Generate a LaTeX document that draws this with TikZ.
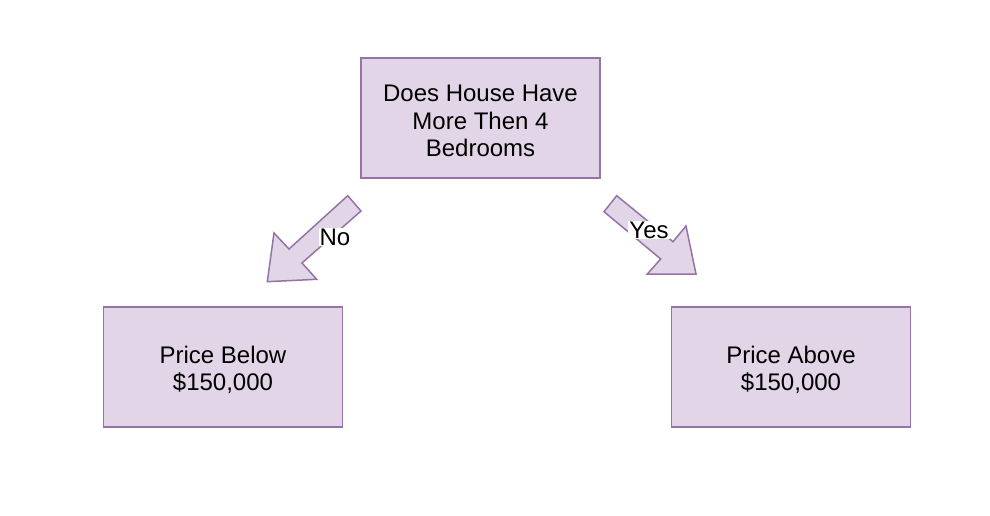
\documentclass[tikz,border=0pt]{standalone}
\usepackage{fontspec}
\setmainfont{Liberation Sans}
\definecolor{boxfill}{HTML}{E1D5E7}
\definecolor{boxdraw}{HTML}{9673A6}
\begin{document}
\begin{tikzpicture}[x=1pt,y=-1pt,
  box/.style={draw=boxdraw,fill=boxfill,line width=1.5pt,minimum width=239pt,minimum height=120pt,inner sep=0pt,
    label={[align=center,inner sep=0pt,yshift=-3pt,font=\fontsize{24}{27.5}\selectfont]center:#1}},
  flexarrow/.style={draw=boxdraw,fill=boxfill,line width=1.5pt,line join=miter},
  lbl/.style={fill=white,inner sep=1pt,font=\fontsize{24}{26}\selectfont}]
\useasboundingbox (0,0) rectangle (990,516);
\node[box={Does House Have\\More Then 4\\Bedrooms}] (q) at (480.5,118) {};
\node[box={Price Below\\\$150,000}] (lo) at (223,367) {};
\node[box={Price Above\\\$150,000}] (hi) at (791,367) {};
% left arrow
\filldraw[flexarrow] (347.7,195.7) -- (361,211) -- (302,263) -- (316.7,279.3) -- (267.3,281.7) -- (274,233) -- (289,249) -- cycle;
% right arrow
\filldraw[flexarrow] (616.7,195.7) -- (673,241.7) -- (686,226) -- (696,274) -- (647.3,274) -- (660.7,259) -- (604,211.7) -- cycle;
\node[lbl] (no) at (335,237) {No};
\node[lbl] (yes) at (649,230) {Yes};
\end{tikzpicture}
\end{document}
